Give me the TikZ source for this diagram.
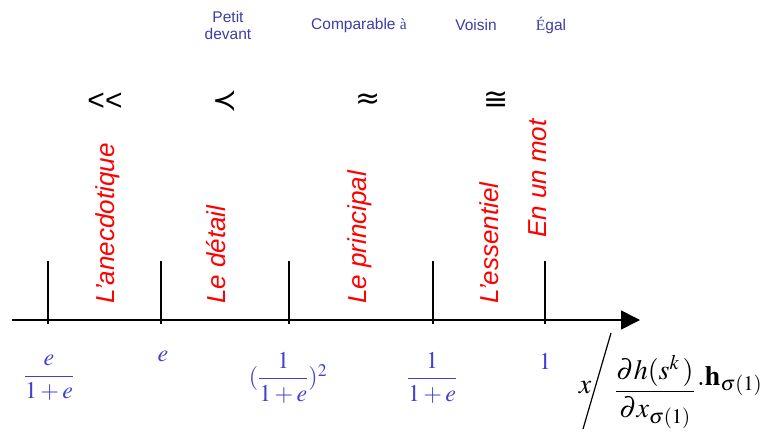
\documentclass[tikz,border=0pt]{standalone}
\usepackage{amsmath}
\usepackage{mathptmx}
\usepackage[no-math]{fontspec}
\setmainfont{Liberation Serif}
\setsansfont{Liberation Sans}
\newfontfamily\relfont{DejaVu Sans}
\usetikzlibrary{arrows.meta}
\definecolor{labelblue}{RGB}{60,60,165}
\definecolor{valblue}{RGB}{64,64,210}

\begin{document}
\begin{tikzpicture}[x=1pt,y=-1pt,>={Triangle[length=19pt,width=19pt]},
  zone/.style={red,font=\sffamily\itshape\fontsize{26}{26}\selectfont,rotate=90,anchor=west,inner sep=0pt},
  relname/.style={labelblue,font=\sffamily\fontsize{15.5}{17}\selectfont,align=center,inner sep=0pt},
  relsym/.style={font=\relfont\fontsize{30}{30}\selectfont,inner sep=0pt},
  val/.style={valblue,font=\fontsize{24}{28}\selectfont,inner sep=0pt},
  formula/.style={font=\fontsize{28}{30}\selectfont,inner sep=0pt}]
\useasboundingbox (0,0) rectangle (762,431);
% axis and ticks
\coordinate (start) at (12,320);
\coordinate (end) at (640,320);
\draw[line width=1.6pt,->] (start)--(end);
\foreach \x/\n in {48/a,161/b,289/c,433/d,545/f} {
  \coordinate (tick\n) at (\x,324);
  \draw[line width=1.6pt] (tick\n)--++(0,-63);
}
% zones
\node[zone] (anec) at (108,304) {L'anecdotique};
\node[zone] (detail) at (216,304) {Le détail};
\node[zone] (princ) at (360,304) {Le principal};
\node[zone] (essen) at (489,304) {L'essentiel};
\node[zone] (mot) at (538,238) {En un mot};
% relations
\node[relname] (petit) at (228,25) {Petit\\devant};
\node[relname] (compar) at (359,25) {Comparable {\rmfamily à}};
\node[relname] (voisin) at (476,25) {Voisin};
\node[relname] (egal) at (551,25) {{\rmfamily É}gal};
\node[relsym,font=\sffamily\fontsize{30}{30}\selectfont] (ll) at (105,102) {<{}<};
\node[relsym] (prec) at (225,101) {≺};
\node[relsym] (appr) at (368,101) {≈};
\node[relsym] (cong) at (496,101) {≅};
% values
\node[val] (va) at (49,378) {$\dfrac{e}{1+e}$};
\node[val] (vb) at (163,356) {$e$};
\node[val] (vc) at (288,378) {$(\dfrac{1}{1+e})^2$};
\node[val] (vd) at (432,378) {$\dfrac{1}{1+e}$};
\node[val] (vf) at (545,361) {$1$};
% ratio
\node[formula] (xvar) at (585,388) {$x$};
\coordinate (slashlow) at (583,429);
\coordinate (slashhigh) at (611,333);
\draw[line width=1.2pt] (slashlow)--(slashhigh);
\node[formula] (frac) at (655,392) {$\dfrac{\partial h(s^k\,)}{\partial x_{\sigma(1)}}$};
\node[formula,anchor=base west] (hvec) at (697,385) {$.\mathbf{h}_{\sigma(1)}$};
\end{tikzpicture}
\end{document}
